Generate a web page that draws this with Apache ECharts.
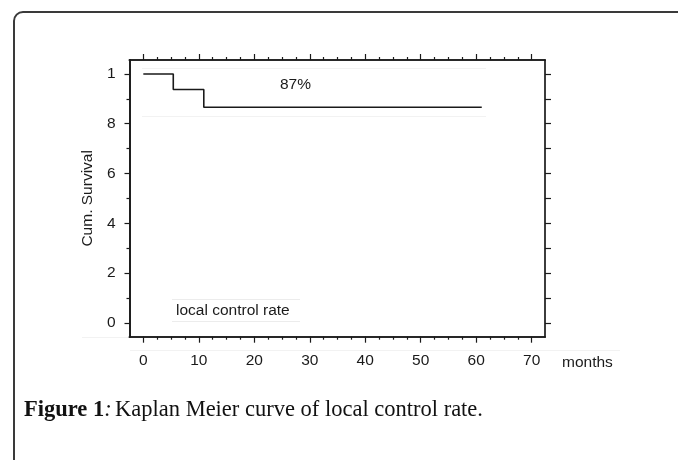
<!DOCTYPE html>
<html><head><meta charset="utf-8">
<script src="https://cdn.jsdelivr.net/npm/echarts@6/dist/echarts.min.js"></script>
<style>html,body{margin:0;padding:0;background:#fff}#c{width:678px;height:460px}</style>
</head><body><div id="c"></div>
<script>
// Kaplan–Meier step data
var months = [0, 5.4, 10.9, 61];
var survival = [1, 0.9375, 0.866, 0.866];
var xTickValues = [0, 10, 20, 30, 40, 50, 60, 70];
var xMinorValues = [2.5,5,7.5,12.5,15,17.5,22.5,25,27.5,32.5,35,37.5,42.5,45,47.5,52.5,55,57.5,62.5,65,67.5];
var yTickValues = [0, 0.2, 0.4, 0.6, 0.8, 1];
var yTickLabels = ['0', '2', '4', '6', '8', '1'];
var yMinorValues = [0.1, 0.3, 0.5, 0.7, 0.9];
var yRightValues = [0, 0.1, 0.2, 0.3, 0.4, 0.5, 0.6, 0.7, 0.8, 0.9, 1];
var rateLabel = '87%';
var legendLabel = 'local control rate';

var chart = echarts.init(document.getElementById('c'), null, {renderer: 'canvas'});
var X0 = -2.49, X1 = 72.4, Y0 = -0.056, Y1 = 1.056;
var ax = {show: true, onZero: false, lineStyle: {color: '#1a1a1a', width: 1.7}};
var font = 'Liberation Sans, Arial, sans-serif';
function xa(pos, vals, len, labels) {
  return {type: 'value', position: pos, min: X0, max: X1, axisLine: ax, splitLine: {show: false},
    axisTick: {show: true, inside: false, length: len, customValues: vals, lineStyle: {color: '#1a1a1a', width: 1.2}},
    axisLabel: labels ? {show: true, customValues: vals, margin: 16, fontSize: 15.5, color: '#1a1a1a', fontFamily: font} : {show: false}};
}
function ya(pos, vals, len, labels) {
  return {type: 'value', position: pos, min: Y0, max: Y1, axisLine: ax, splitLine: {show: false},
    axisTick: {show: true, inside: false, length: len, customValues: vals, lineStyle: {color: '#1a1a1a', width: 1.2}},
    axisLabel: labels ? {show: true, customValues: vals, margin: 14, fontSize: 15.5, color: '#1a1a1a', fontFamily: font,
      formatter: function (v) { var i = yTickValues.findIndex(function (t) { return Math.abs(t - v) < 1e-6; }); return i >= 0 ? yTickLabels[i] : ''; }} : {show: false}};
}
var yMain = ya('left', yTickValues, 5, true);
yMain.name = 'Cum. Survival'; yMain.nameLocation = 'middle'; yMain.nameRotate = 90; yMain.nameGap = 29;
yMain.nameTextStyle = {fontSize: 15.5, color: '#1a1a1a', fontFamily: font};

var option = {
  animation: false,
  backgroundColor: '#fff',
  grid: {left: 129.5, top: 60, right: 133, bottom: 123.3, containLabel: false},
  xAxis: [
    xa('bottom', xTickValues, 6, true),
    xa('bottom', xMinorValues, 3, false),
    xa('top', xTickValues, 6, false),
    xa('top', xMinorValues, 3, false)
  ],
  yAxis: [
    yMain,
    ya('left', yMinorValues, 3, false),
    ya('right', yRightValues, 6, false)
  ],
  series: [{
    type: 'line', step: 'end', xAxisIndex: 0, yAxisIndex: 0, symbol: 'none',
    data: months.map(function (m, i) { return [m, survival[i]]; }),
    lineStyle: {color: '#1a1a1a', width: 1.6}
  }],
  graphic: [
    {type: 'rect', shape: {x: 14, y: 12, width: 720, height: 520, r: 9}, style: {fill: 'none', stroke: '#3a3a3a', lineWidth: 2}, silent: true},
    {type: 'line', shape: {x1: 142, y1: 68.5, x2: 486, y2: 68.5}, style: {stroke: '#f2f2f2', lineWidth: 1}},
    {type: 'line', shape: {x1: 142, y1: 116.5, x2: 486, y2: 116.5}, style: {stroke: '#f2f2f2', lineWidth: 1}},
    {type: 'line', shape: {x1: 172, y1: 299.5, x2: 300, y2: 299.5}, style: {stroke: '#ececec', lineWidth: 1}},
    {type: 'line', shape: {x1: 172, y1: 321.5, x2: 300, y2: 321.5}, style: {stroke: '#ececec', lineWidth: 1}},
    {type: 'line', shape: {x1: 130, y1: 350.5, x2: 620, y2: 350.5}, style: {stroke: '#f2f2f2', lineWidth: 1}},
    {type: 'line', shape: {x1: 82, y1: 337.5, x2: 128, y2: 337.5}, style: {stroke: '#f2f2f2', lineWidth: 1}},
    {type: 'text', x: 280, y: 85, style: {text: rateLabel, font: '15.5px ' + font, fill: '#1a1a1a', verticalAlign: 'middle'}},
    {type: 'text', x: 176, y: 311, style: {text: legendLabel, font: '15.5px ' + font, fill: '#1a1a1a', verticalAlign: 'middle'}},
    {type: 'text', x: 562, y: 363, style: {text: 'months', font: '15.5px ' + font, fill: '#1a1a1a', verticalAlign: 'middle'}},
    {type: 'text', x: 24, y: 410, style: {
      text: '{b|Figure 1}{i|:} {r|Kaplan Meier curve of local control rate.}', verticalAlign: 'middle',
      rich: {
        b: {font: 'bold 22.5px Liberation Serif, DejaVu Serif, serif', fill: '#111'},
        i: {font: 'italic 22.5px Liberation Serif, DejaVu Serif, serif', fill: '#111'},
        r: {font: '22.5px Liberation Serif, DejaVu Serif, serif', fill: '#111'}
      }}}
  ]
};
chart.setOption(option);
</script></body></html>
